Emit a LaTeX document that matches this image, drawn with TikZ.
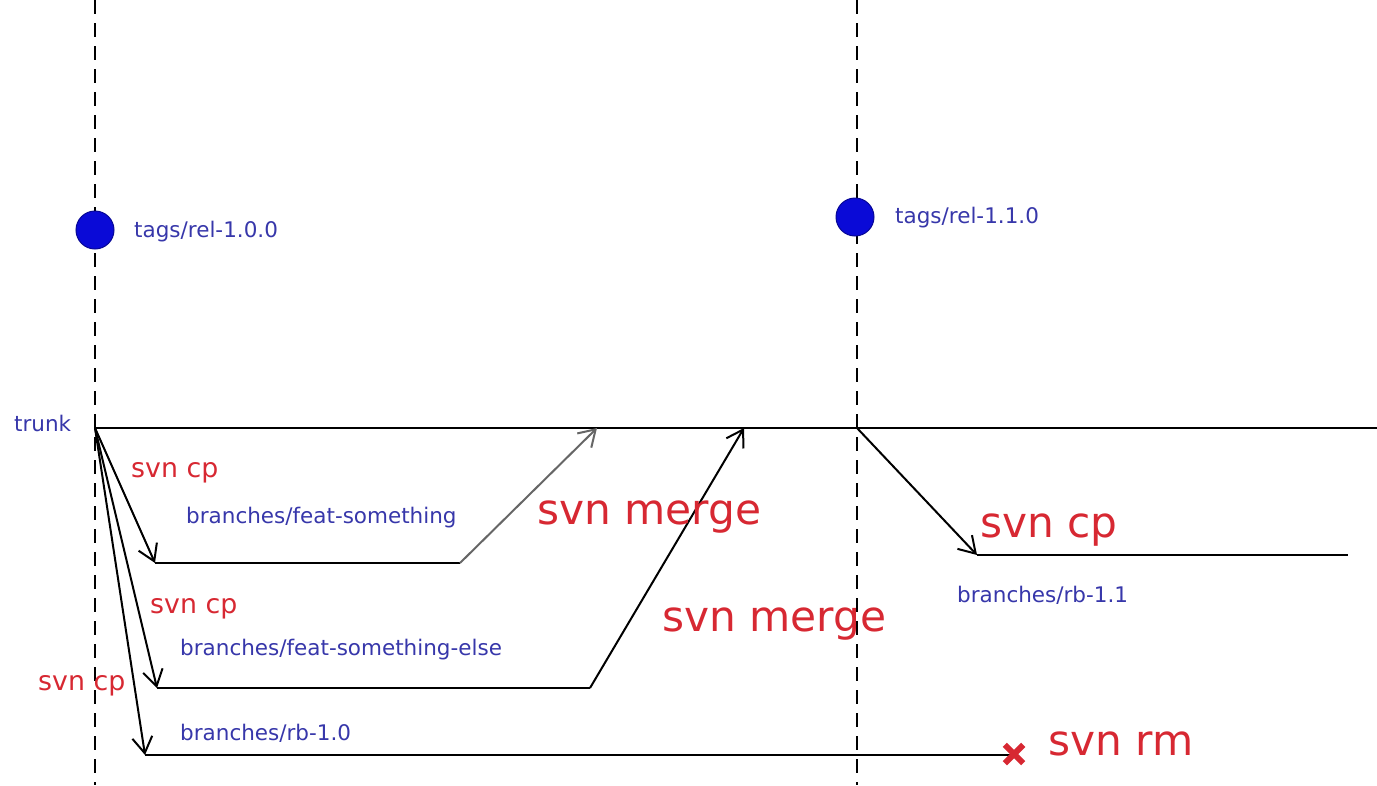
\documentclass[tikz,border=0pt]{standalone}
\usepackage{fontspec}
\setmainfont{DejaVu Sans}
\usetikzlibrary{arrows.meta}
\definecolor{lblblue}{RGB}{55,55,170}
\definecolor{lblred}{RGB}{215,40,50}
\definecolor{tagblue}{RGB}{10,10,215}
\tikzset{
  timeline/.style={line width=2.4pt, dash pattern=on 14pt off 9pt},
  branch/.style={line width=2.4pt},
  copyarrow/.style={line width=2pt, -{Straight Barb[length=16pt,width=20pt,line width=2pt]}},
  mergearrow/.style={line width=2pt, -{Straight Barb[length=16pt,width=20pt,line width=2pt]}},
  tagdot/.style={circle, fill=tagblue, draw=tagblue!70!black, line width=1pt, minimum size=38pt, inner sep=0pt},
  bluelbl/.style={anchor=base west, inner sep=0pt, text=lblblue, font=\fontsize{21.5}{24}\selectfont},
  redsmall/.style={anchor=base west, inner sep=0pt, text=lblred, font=\fontsize{26.8}{30}\selectfont},
  redbig/.style={anchor=base west, inner sep=0pt, text=lblred, font=\fontsize{42.3}{46}\selectfont},
}
\begin{document}
\begin{tikzpicture}[x=1pt, y=-1pt]
\useasboundingbox (0,0) rectangle (1377,785);

% release time lines
\coordinate (v1top) at (95,0);
\coordinate (v1bot) at (95,785);
\coordinate (v2top) at (857,0);
\coordinate (v2bot) at (857,785);
\draw[timeline] (v1top) -- (v1bot);
\draw[timeline] (v2top) -- (v2bot);

% tags
\node[tagdot] (tag1) at (95,230) {};
\node[tagdot] (tag2) at (855,217) {};
\node[bluelbl] (tag1lbl) at (134,237) {tags/rel-1.0.0};
\node[bluelbl] (tag2lbl) at (895,223) {tags/rel-1.1.0};

% trunk
\coordinate (trunkA) at (95,428);
\coordinate (trunkB) at (1377,428);
\coordinate (trunkC) at (857,428);
\draw[branch] (trunkA) -- (trunkB);
\node[bluelbl] (trunklbl) at (14,431) {trunk};

% branch points
\coordinate (fs0) at (155,563);
\coordinate (fs1) at (460,563);
\coordinate (fsM) at (597,428);
\coordinate (fe0) at (157,688);
\coordinate (fe1) at (590,688);
\coordinate (feM) at (744,428);
\coordinate (rb0) at (145,755);
\coordinate (rb1) at (1010,755);
\coordinate (rc0) at (977,555);
\coordinate (rc1) at (1348,555);

% copies from trunk
\draw[copyarrow] (trunkA) -- (fs0);
\draw[copyarrow] (trunkA) -- (fe0);
\draw[copyarrow] (trunkA) -- (rb0);
\draw[copyarrow] (trunkC) -- (rc0);

% branches
\draw[branch] (fs0) -- (fs1);
\draw[branch] (fe0) -- (fe1);
\draw[branch] (rb0) -- (rb1);
\draw[branch] (rc0) -- (rc1);

% merges back to trunk
\draw[mergearrow, black!60] (fs1) -- (fsM);
\draw[mergearrow] (fe1) -- (feM);

% removal mark
\node[inner sep=0pt, minimum size=18pt] (rm) at (1014,754) {};
\draw[lblred, line width=6pt] (rm.north west) -- (rm.south east);
\draw[lblred, line width=6pt] (rm.south west) -- (rm.north east);

% labels
\node[redsmall] (cp1) at (131,477) {svn cp};
\node[bluelbl] (fslbl) at (186,523) {branches/feat-something};
\node[redsmall] (cp2) at (150,613) {svn cp};
\node[bluelbl] (felbl) at (180,655) {branches/feat-something-else};
\node[redsmall] (cp3) at (38,690) {svn cp};
\node[bluelbl] (rblbl) at (180,740) {branches/rb-1.0};
\node[redbig] (mg1) at (537,524) {svn merge};
\node[redbig] (mg2) at (662,631) {svn merge};
\node[redbig] (cp4) at (980,537) {svn cp};
\node[bluelbl] (rclbl) at (957,602) {branches/rb-1.1};
\node[redbig] (rmlbl) at (1048,755) {svn rm};
\end{tikzpicture}
\end{document}
